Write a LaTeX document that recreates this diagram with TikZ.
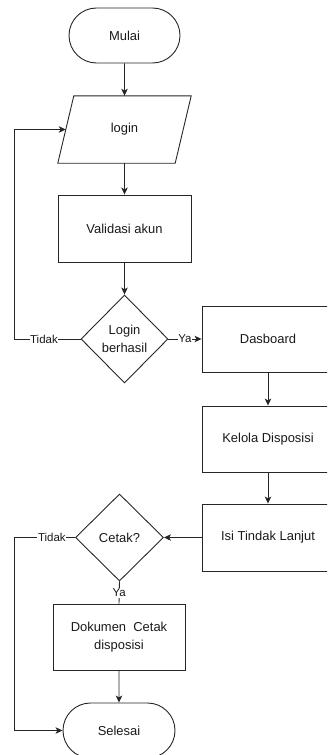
\documentclass[tikz,border=0pt]{standalone}
\usepackage{fontspec}
\setmainfont{Liberation Sans}
\usetikzlibrary{shapes.geometric,shapes.misc,arrows.meta}
\begin{document}
\begin{tikzpicture}[x=1bp,y=-1bp,
  every node/.style={font=\fontsize{13}{17.5}\selectfont, text=black!90, align=center},
  base/.style={draw=black!85, line width=0.9bp, inner sep=0pt},
  terminal/.style={base, rounded rectangle, minimum width=111bp, minimum height=55bp},
  iobox/.style={inner sep=0pt, rectangle, minimum width=133bp, minimum height=67bp},
  process/.style={base, rectangle, minimum width=132bp, minimum height=66bp},
  decision/.style={base, diamond, minimum width=87bp, minimum height=88bp},
  edge/.style={draw=black!85, line width=0.9bp},
  flow/.style={edge, -{Stealth[length=7bp,width=6.5bp,inset=1.8bp]}},
  lbl/.style={fill=white, inner sep=0.6bp, font=\fontsize{11.5}{13}\selectfont}
]
\useasboundingbox (0,0) rectangle (327,755);
\clip (0,0) rectangle (327,755);

\node[terminal] (mulai) at (124.5,35.5) {Mulai};
\node[iobox] (login) at (124.5,129.5) {login};
\draw[base] ([xshift=16bp]login.north west) -- (login.north east)
  -- ([xshift=-16bp]login.south east) -- (login.south west) -- cycle;
\coordinate (loginW) at ([xshift=8bp]login.west);
\node[process, minimum width=133bp, minimum height=67bp] (valid) at (124.5,228.5) {Validasi akun};
\node[decision] (lb) at (124.5,339) {Login\\berhasil};
\node[process] (dash) at (268,339) {Dasboard};
\node[process] (kelola) at (268,439) {Kelola Disposisi};
\node[process, minimum height=67bp] (isi) at (268,537.5) {Isi Tindak Lanjut};
\node[decision, minimum width=88bp, minimum height=87bp] (cetak) at (119.5,537.5) {Cetak?};
\node[process] (dok) at (119,637) {Dokumen\ \ Cetak\\disposisi};
\node[terminal, minimum width=112bp] (selesai) at (119,730.5) {Selesai};

\coordinate (c1) at (14,339);
\coordinate (c2) at (14,537.5);

\draw[flow] (mulai) -- (login);
\draw[flow] (login) -- (valid);
\draw[flow] (valid) -- (lb);
\draw[flow] (lb.west) -- node[lbl, pos=0.55] {Tidak} (c1) |- (loginW);
\draw[flow] (lb.east) -- node[lbl, pos=0.5] {Ya} (dash.west);
\draw[flow] (dash) -- (kelola);
\draw[flow] (kelola) -- (isi);
\draw[flow] (isi.west) -- (cetak.east);
\draw[flow] (cetak.west) -- node[lbl, pos=0.38] {Tidak} (c2) |- (selesai.west);
\draw[edge] (cetak.south) -- node[lbl, pos=0.52] {Ya} (dok.north);
\draw[flow] (dok) -- (selesai);
\end{tikzpicture}
\end{document}
